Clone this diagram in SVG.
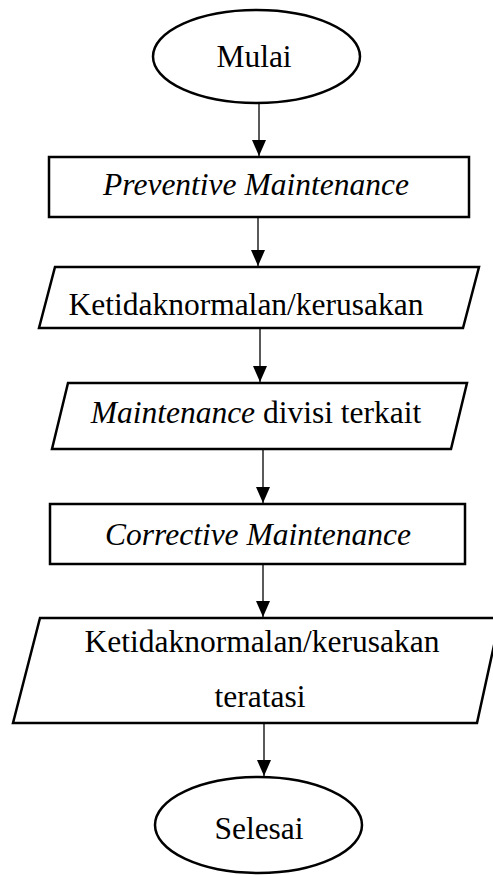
<svg xmlns="http://www.w3.org/2000/svg" width="493" height="875" viewBox="0 0 493 875">
<defs>
<style>
.shape{fill:#fff;stroke:#000;stroke-width:2.5}
.conn{stroke:#000;stroke-width:1.3;fill:none}
.t{font-family:"Liberation Serif","Times New Roman",serif;font-size:31.5px;fill:#000;text-anchor:middle}
.i{font-style:italic}
</style>
<marker id="ah" viewBox="0 0 16 14" refX="16" refY="7" markerWidth="16" markerHeight="14" markerUnits="userSpaceOnUse" orient="auto">
<path d="M0,0 L16,7 L0,14 Z" fill="#000"/>
</marker>
</defs>
<rect width="493" height="875" fill="#fff"/>
<g id="connectors">
<line class="conn" x1="259" y1="103" x2="259" y2="156" marker-end="url(#ah)"/>
<line class="conn" x1="258" y1="217" x2="258" y2="266" marker-end="url(#ah)"/>
<line class="conn" x1="260" y1="328" x2="260" y2="382" marker-end="url(#ah)"/>
<line class="conn" x1="263" y1="449" x2="263" y2="503" marker-end="url(#ah)"/>
<line class="conn" x1="263" y1="564" x2="263" y2="617" marker-end="url(#ah)"/>
<line class="conn" x1="264" y1="723" x2="264" y2="776" marker-end="url(#ah)"/>
</g>
<g id="mulai">
<ellipse class="shape" cx="256.5" cy="56.5" rx="103.5" ry="46.5"/>
<text class="t" x="254" y="67">Mulai</text>
</g>
<g id="preventive">
<rect class="shape" x="49" y="157" width="420" height="60"/>
<text class="t i" x="256" y="195">Preventive Maintenance</text>
</g>
<g id="ketidaknormalan">
<polygon class="shape" points="55,267 479,267 463,328 39,328"/>
<text class="t" x="246" y="315">Ketidaknormalan/kerusakan</text>
</g>
<g id="maintenance-divisi">
<polygon class="shape" points="68,383 467,383 451,449 52,449"/>
<text class="t" x="256" y="423"><tspan class="i">Maintenance</tspan> divisi terkait</text>
</g>
<g id="corrective">
<rect class="shape" x="50" y="504" width="415" height="60"/>
<text class="t i" x="258" y="545">Corrective Maintenance</text>
</g>
<g id="teratasi">
<polygon class="shape" points="40,618 500,618 477,723 13,723"/>
<text class="t" x="262" y="652">Ketidaknormalan/kerusakan</text>
<text class="t" x="260" y="707">teratasi</text>
</g>
<g id="selesai">
<ellipse class="shape" cx="258.5" cy="825" rx="103.5" ry="48"/>
<text class="t" x="259" y="839">Selesai</text>
</g>
</svg>
